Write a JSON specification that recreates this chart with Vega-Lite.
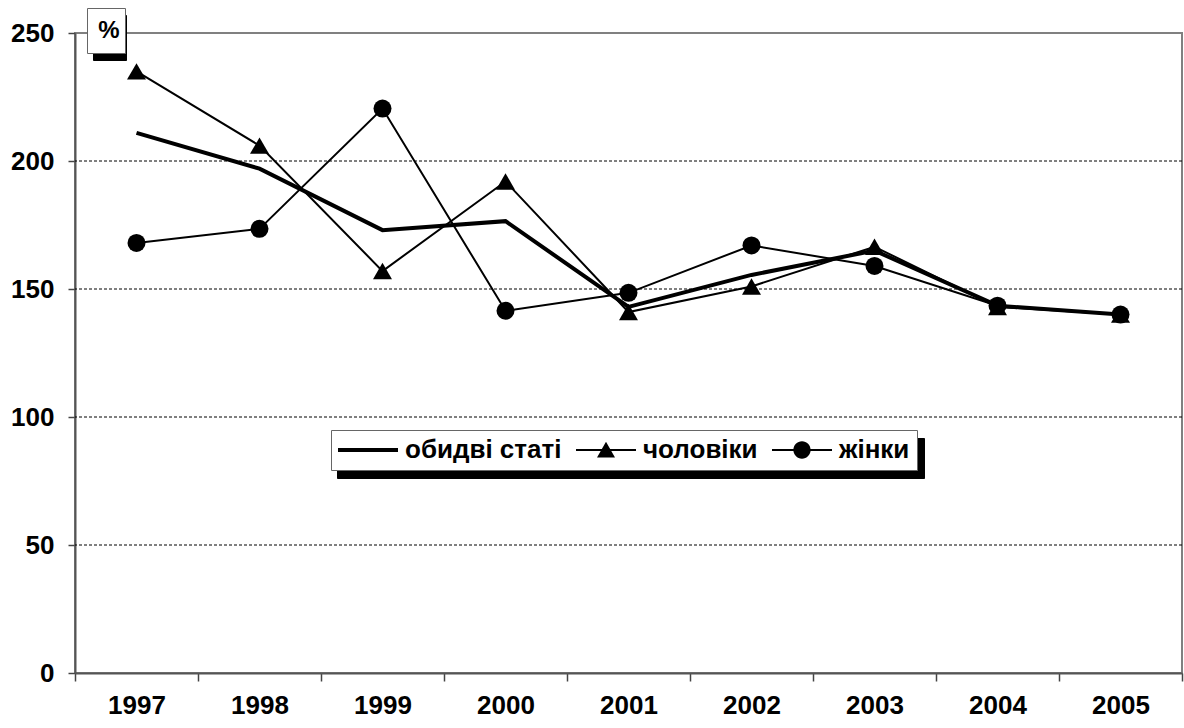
{
  "$schema": "https://vega.github.io/schema/vega-lite/v6.json",
  "width": 1107,
  "height": 640,
  "autosize": {"type": "none"},
  "padding": {"left": 75, "top": 33, "right": 2, "bottom": 55},
  "background": "white",
  "config": {
    "view": {"stroke": "#808080", "strokeWidth": 2},
    "font": "Liberation Sans"
  },
  "datasets": {
    "main": [
      {"year": "1997", "series": "обидві статі", "value": 211},
      {"year": "1998", "series": "обидві статі", "value": 197},
      {"year": "1999", "series": "обидві статі", "value": 173},
      {"year": "2000", "series": "обидві статі", "value": 176.5},
      {"year": "2001", "series": "обидві статі", "value": 143},
      {"year": "2002", "series": "обидві статі", "value": 155.5},
      {"year": "2003", "series": "обидві статі", "value": 165},
      {"year": "2004", "series": "обидві статі", "value": 143.5},
      {"year": "2005", "series": "обидві статі", "value": 140},
      {"year": "1997", "series": "чоловіки", "value": 235},
      {"year": "1998", "series": "чоловіки", "value": 206},
      {"year": "1999", "series": "чоловіки", "value": 157},
      {"year": "2000", "series": "чоловіки", "value": 192},
      {"year": "2001", "series": "чоловіки", "value": 141},
      {"year": "2002", "series": "чоловіки", "value": 151},
      {"year": "2003", "series": "чоловіки", "value": 166.5},
      {"year": "2004", "series": "чоловіки", "value": 143},
      {"year": "2005", "series": "чоловіки", "value": 140},
      {"year": "1997", "series": "жінки", "value": 168},
      {"year": "1998", "series": "жінки", "value": 173.5},
      {"year": "1999", "series": "жінки", "value": 220.5},
      {"year": "2000", "series": "жінки", "value": 141.5},
      {"year": "2001", "series": "жінки", "value": 148.5},
      {"year": "2002", "series": "жінки", "value": 167},
      {"year": "2003", "series": "жінки", "value": 159},
      {"year": "2004", "series": "жінки", "value": 143.5},
      {"year": "2005", "series": "жінки", "value": 140}
    ],
    "grid": [{"g": 50}, {"g": 100}, {"g": 150}, {"g": 200}]
  },
  "layer": [
    {
      "data": {"name": "grid"},
      "mark": {"type": "rule", "color": "black", "strokeWidth": 1, "strokeDash": [3, 2]},
      "encoding": {
        "y": {
          "field": "g", "type": "quantitative",
          "scale": {"domain": [0, 250], "nice": false},
          "axis": {
            "title": null, "values": [0, 50, 100, 150, 200, 250],
            "labelFont": "Liberation Sans", "labelFontSize": 26, "labelFontWeight": "bold", "labelColor": "black",
            "labelPadding": 14, "tickSize": 7, "tickColor": "#444444", "tickWidth": 1.5,
            "domainColor": "#555555", "domainWidth": 2, "grid": false
          }
        }
      }
    },
    {
      "data": {"values": [{"pcs": "pct-shadow"}]},
      "transform": [{"filter": "false"}],
      "mark": {"type": "point", "filled": true},
      "encoding": {
        "color": {
          "field": "pcs", "type": "nominal",
          "scale": {"domain": ["pct-shadow"], "range": ["black"]},
          "legend": {
            "orient": "none", "legendX": 18, "legendY": -18, "title": null,
            "labelExpr": "''",
            "labelFont": "Liberation Sans", "labelFontSize": 24, "labelFontWeight": "bold", "labelColor": "black",
            "labelAlign": "center", "symbolType": "M-0.62,-1H0.62V1H-0.62Z", "symbolSize": 1225,
            "symbolOpacity": 0, "symbolStrokeWidth": 0, "symbolOffset": -6, "labelOffset": -18,
            "padding": 5, "fillColor": "black", "strokeColor": "black", "cornerRadius": 0
          }
        }
      }
    },
    {
      "data": {"values": [{"pc": "%"}]},
      "transform": [{"filter": "false"}],
      "mark": {"type": "point", "filled": false},
      "encoding": {
        "stroke": {
          "field": "pc", "type": "nominal",
          "scale": {"domain": ["%"], "range": ["black"]},
          "legend": {
            "orient": "none", "legendX": 12, "legendY": -25, "title": null,
            "labelFont": "Liberation Sans", "labelFontSize": 24, "labelFontWeight": "bold", "labelColor": "black",
            "labelAlign": "center", "symbolType": "M0,-1V1", "symbolSize": 1225,
            "symbolOpacity": 0, "symbolStrokeWidth": 0, "symbolOffset": 0, "labelOffset": -18,
            "padding": 5, "fillColor": "white", "strokeColor": "#666666", "cornerRadius": 0
          }
        }
      }
    },
    {
      "data": {"values": [{"lgs": "shadow"}]},
      "transform": [{"filter": "false"}],
      "mark": {"type": "point", "filled": true},
      "encoding": {
        "fill": {
          "field": "lgs", "type": "nominal",
          "scale": {"domain": ["shadow"], "range": ["black"]},
          "legend": {
            "orient": "none", "legendX": 262, "legendY": 405, "title": null,
            "labelExpr": "''",
            "labelFont": "Liberation Sans", "labelFontSize": 26, "labelFontWeight": "bold", "labelColor": "black",
            "symbolType": "M-23.875,-1.083H23.875V1.083H-23.875Z", "symbolSize": 576,
            "symbolOffset": 273, "labelOffset": 0,
            "symbolStrokeWidth": 0, "symbolOpacity": 0,
            "padding": 7, "fillColor": "black", "strokeColor": "black", "cornerRadius": 0
          }
        }
      }
    },
    {
      "data": {"values": [{"lg": "обидві статі"}, {"lg": "чоловіки"}, {"lg": "жінки"}]},
      "transform": [{"filter": "false"}],
      "mark": {"type": "point", "filled": true, "color": "black"},
      "encoding": {
        "shape": {
          "field": "lg", "type": "nominal",
          "scale": {
            "domain": ["обидві статі", "чоловіки", "жінки"],
            "range": [
              "M-2.5,-0.17H2.5V0.17H-2.5Z",
              "M-2.5,-0.09H2.5V0.09H-2.5Z M-0.75,0.62L0,-0.68L0.75,0.62Z",
              "M-2.5,-0.09H2.5V0.09H-2.5Z M0.72,0A0.72,0.72 0 1,1 -0.72,0A0.72,0.72 0 1,1 0.72,0Z"
            ]
          },
          "legend": {
            "orient": "none", "legendX": 256, "legendY": 397, "title": null,
            "direction": "horizontal", "columns": 3,
            "labelFont": "Liberation Sans", "labelFontSize": 26, "labelFontWeight": "bold", "labelColor": "black",
            "labelLimit": 400,
            "symbolSize": 576, "symbolOffset": 17, "labelOffset": 24, "columnPadding": 14,
            "symbolFillColor": "black", "symbolStrokeColor": "black", "symbolStrokeWidth": 0, "symbolOpacity": 1,
            "padding": 7, "fillColor": "white", "strokeColor": "#666666", "cornerRadius": 0
          }
        }
      }
    },
    {
      "data": {"name": "main"},
      "transform": [{"filter": "datum.series !== 'обидві статі'"}],
      "mark": {"type": "line", "color": "black", "strokeWidth": 2},
      "encoding": {
        "x": {
          "field": "year", "type": "ordinal",
          "scale": {"type": "band", "paddingInner": 0, "paddingOuter": 0},
          "bandPosition": 0.5,
          "axis": {
            "title": null, "labelAngle": 0,
            "labelFont": "Liberation Sans", "labelFontSize": 26, "labelFontWeight": "bold", "labelColor": "black",
            "labelPadding": 11, "tickSize": 8, "tickColor": "#444444", "tickWidth": 1.5, "tickBand": "extent",
            "domainColor": "#555555", "domainWidth": 2, "grid": false
          }
        },
        "y": {"field": "value", "type": "quantitative"},
        "detail": {"field": "series"}
      }
    },
    {
      "data": {"name": "main"},
      "transform": [{"filter": "datum.series === 'обидві статі'"}],
      "mark": {"type": "line", "color": "black", "strokeWidth": 4},
      "encoding": {
        "x": {"field": "year", "type": "ordinal", "bandPosition": 0.5},
        "y": {"field": "value", "type": "quantitative"}
      }
    },
    {
      "data": {"name": "main"},
      "transform": [{"filter": "datum.series === 'чоловіки'"}],
      "mark": {"type": "point", "shape": "triangle-up", "filled": true, "color": "black", "size": 360, "opacity": 1},
      "encoding": {
        "x": {"field": "year", "type": "ordinal", "bandPosition": 0.5},
        "y": {"field": "value", "type": "quantitative"}
      }
    },
    {
      "data": {"name": "main"},
      "transform": [{"filter": "datum.series === 'жінки'"}],
      "mark": {"type": "point", "shape": "circle", "filled": true, "color": "black", "size": 324, "opacity": 1},
      "encoding": {
        "x": {"field": "year", "type": "ordinal", "bandPosition": 0.5},
        "y": {"field": "value", "type": "quantitative"}
      }
    }
  ]
}
